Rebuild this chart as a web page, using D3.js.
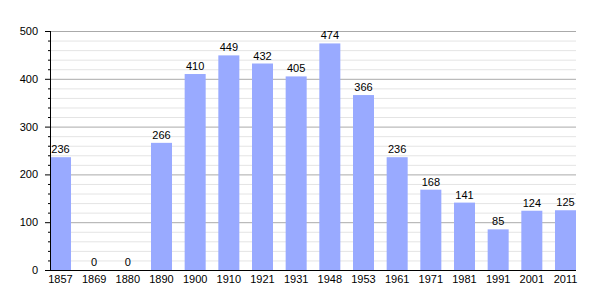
<!DOCTYPE html>
<html><head><meta charset="utf-8">
<script src="https://cdn.jsdelivr.net/npm/d3@7"></script>
<style>body{margin:0;background:#fff}svg{display:block}text{font-family:"Liberation Sans",Arial,sans-serif}</style>
</head><body><svg id="c" width="605" height="300"></svg>
<script>
const years = ["1857","1869","1880","1890","1900","1910","1921","1931","1948","1953","1961","1971","1981","1991","2001","2011"];
const population = [236,0,0,266,410,449,432,405,474,366,236,168,141,85,124,125];
const yTicks = [0,100,200,300,400,500];

const svg = d3.select("#c");
const m = {l:50, r:29, t:31, b:30};
const W = 605, H = 300;
const x = d3.scaleBand().domain(years).range([m.l, W - m.r]).paddingInner(0.376).paddingOuter(0);
const y = d3.scaleLinear().domain([0,500]).range([H - m.b, m.t]);

const minor = d3.range(0, 501, 20);
svg.append("g").selectAll("line").data(minor.filter(v => v % 100 !== 0)).join("line")
  .attr("x1", m.l).attr("x2", W - m.r).attr("y1", d => y(d) + 0.5).attr("y2", d => y(d) + 0.5)
  .attr("stroke", "#e4e4e4").attr("stroke-width", 1);
svg.append("g").selectAll("line").data(yTicks.filter(v => v > 0)).join("line")
  .attr("x1", m.l).attr("x2", W - m.r).attr("y1", d => y(d) + 0.5).attr("y2", d => y(d) + 0.5)
  .attr("stroke", "#aaaaaa").attr("stroke-width", 1);

svg.append("g").selectAll("rect").data(population).join("rect")
  .attr("x", (d, i) => x(years[i])).attr("width", x.bandwidth())
  .attr("y", d => y(d)).attr("height", d => y(0) - y(d))
  .attr("fill", "#99aaff");

svg.append("g").selectAll("text").data(population).join("text")
  .attr("x", (d, i) => x(years[i]) + x.bandwidth() / 2).attr("y", d => y(d) - 4)
  .attr("text-anchor", "middle").attr("font-size", 11).attr("fill", "#000")
  .text(d => d);

// y axis
const ya = svg.append("g");
ya.append("line").attr("x1", m.l + 0.5).attr("x2", m.l + 0.5).attr("y1", y(500)).attr("y2", y(0)).attr("stroke", "#000");
ya.selectAll("line.mn").data(minor.filter(v => v % 100 !== 0)).join("line").attr("class","mn")
  .attr("x1", m.l - 2).attr("x2", m.l).attr("y1", d => y(d) + 0.5).attr("y2", d => y(d) + 0.5).attr("stroke", "#000");
ya.selectAll("line.mj").data(yTicks).join("line").attr("class","mj")
  .attr("x1", m.l - 5).attr("x2", m.l).attr("y1", d => y(d) + 0.5).attr("y2", d => y(d) + 0.5).attr("stroke", "#000");
ya.selectAll("text").data(yTicks).join("text")
  .attr("x", m.l - 12).attr("y", d => y(d) + 4).attr("text-anchor", "end").attr("font-size", 11).text(d => d);

// x axis
svg.append("line").attr("x1", m.l).attr("x2", W - m.r).attr("y1", y(0) + 0.5).attr("y2", y(0) + 0.5).attr("stroke", "#000");
svg.append("g").selectAll("text").data(years).join("text")
  .attr("x", d => x(d) + x.bandwidth() / 2).attr("y", y(0) + 13)
  .attr("text-anchor", "middle").attr("font-size", 11).text(d => d);
</script></body></html>
